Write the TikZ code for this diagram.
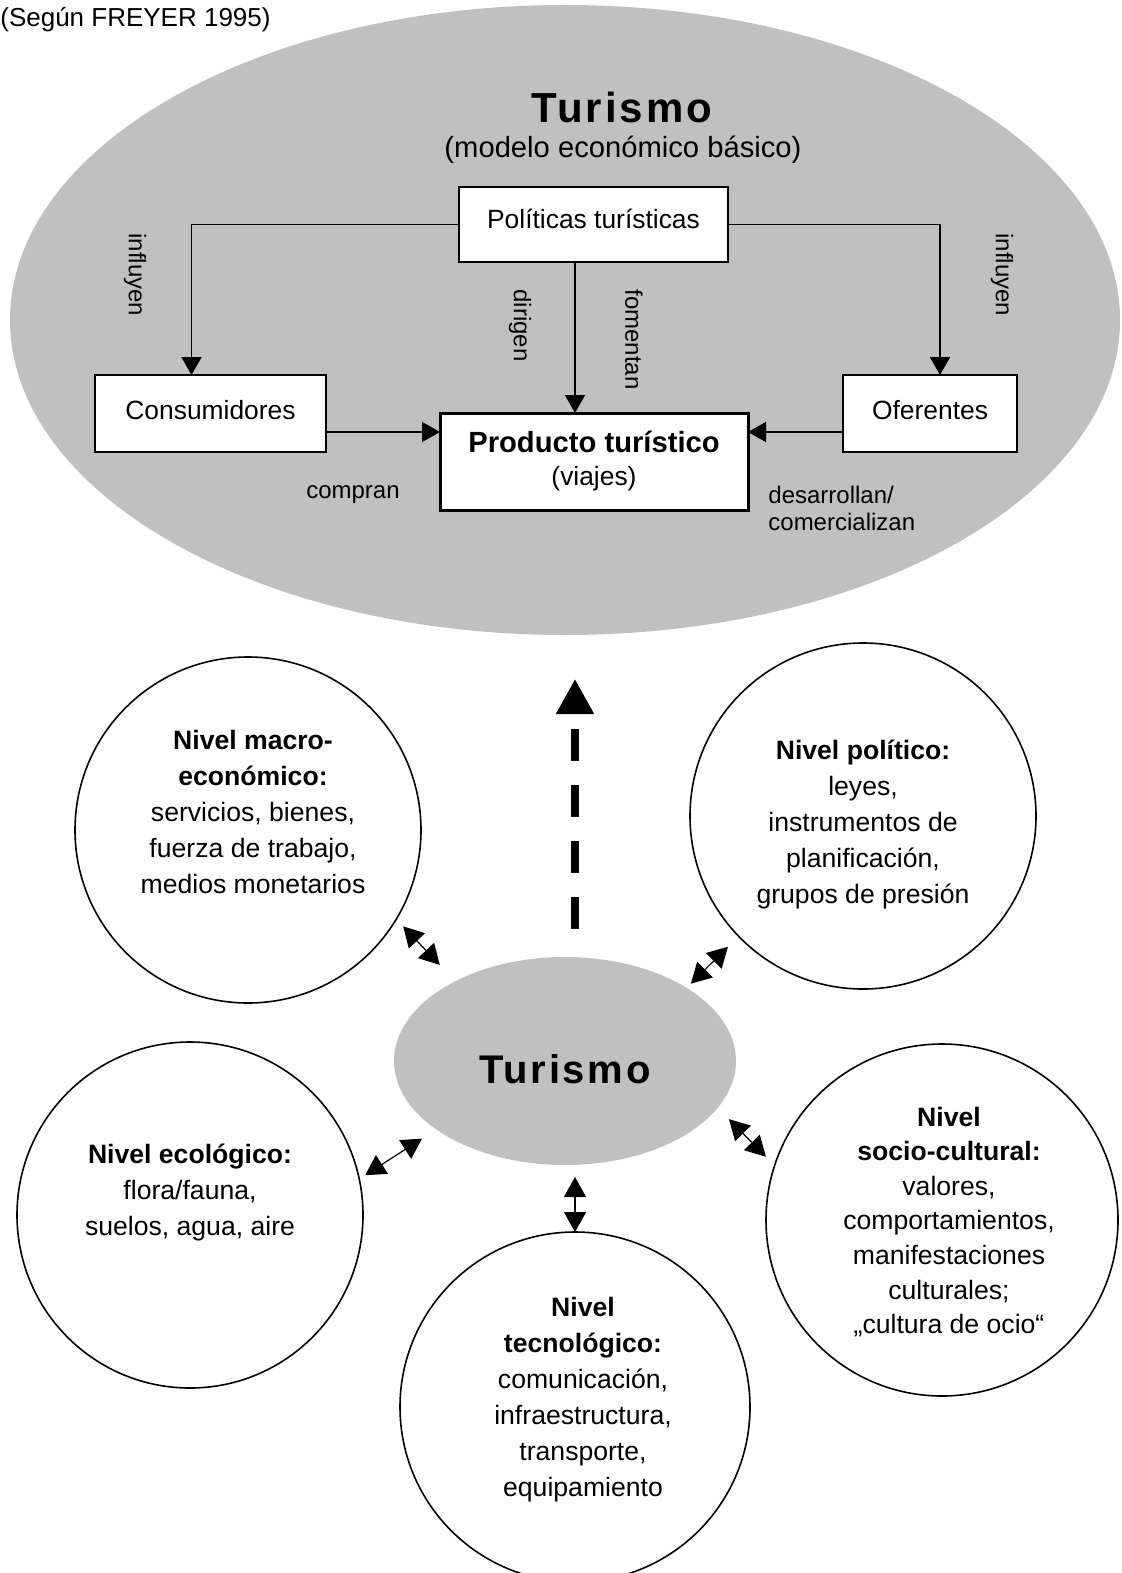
\documentclass[tikz,border=0pt]{standalone}
\usepackage{fontspec}
\setmainfont{Liberation Sans}
\usetikzlibrary{shapes.geometric,arrows.meta}
\definecolor{gris}{RGB}{192,192,192}

\begin{document}
\begin{tikzpicture}[x=0.5pt,y=-0.5pt,
  caja/.style={draw,line width=0.75pt,fill=white,inner sep=0pt,outer sep=0pt,text height=9.5pt,text depth=3.5pt,font=\fontsize{13.2}{16}\selectfont},
  flecha/.style={line width=0.75pt,-{Triangle[width=10pt,length=9pt]}},
  doble/.style={line width=0.6pt,{Triangle[width=11pt,length=10pt]}-{Triangle[width=11pt,length=10pt]}},
  nivel/.style={draw,circle,line width=0.8pt,fill=white,inner sep=0pt,outer sep=0pt},
  texto/.style={align=center,font=\fontsize{13.3}{18}\selectfont},
  etiq/.style={inner sep=0pt,font=\fontsize{12}{13.5}\selectfont},
  nube/.style={ellipse,fill=gris,inner sep=0pt,outer sep=0pt}]
\useasboundingbox (0,0) rectangle (1122,1573);

\node[nube,minimum width=555pt,minimum height=315pt] (modelo) at (565,320) {};
\node[inner sep=0pt,anchor=east,font=\fontsize{13}{15}\selectfont] (fuente) at (271,20) {(Según FREYER 1995)};
\node[inner sep=0pt,font=\fontsize{21}{24}\selectfont\bfseries\addfontfeature{LetterSpace=7}] (tit) at (622,107) {Turismo};
\node[inner sep=0pt,font=\fontsize{14.6}{17}\selectfont] (sub) at (623,150) {(modelo económico básico)};

\node[caja,text depth=5.5pt,minimum width=134.5pt,minimum height=37.5pt] (pol) at (593.5,224.5) {Políticas turísticas};
\node[caja,minimum width=115.5pt,minimum height=38.5pt] (cons) at (210.5,413.5) {Consumidores};
\node[caja,minimum width=87pt,minimum height=38.5pt] (ofe) at (930,413.5) {Oferentes};
\node[caja,line width=1.5pt,text height=,text depth=,align=center,minimum width=154pt,minimum height=48.5pt,font=\fontsize{13.2}{16.5}\selectfont] (prod) at (594,461.5) {{\fontsize{14.6}{16.5}\selectfont\bfseries Producto turístico}\\(viajes)};

\coordinate (eje) at (575,600);
\coordinate (c1) at ([yshift=-9.25pt]cons.east);
\coordinate (c2) at ([yshift=-9.25pt]ofe.west);
\draw[flecha] (pol.west) -| ([xshift=-9.5pt]cons.north);
\draw[flecha] (pol.east) -| ([xshift=5pt]ofe.north);
\draw[flecha] (eje |- pol.south) -- (eje |- prod.north);
\draw[flecha] (c1) -- (c1 -| prod.west);
\draw[flecha] (c2) -- (c2 -| prod.east);

\node[etiq,rotate=-90,anchor=west] (inf1) at (135,233) {influyen};
\node[etiq,rotate=-90,anchor=west] (inf2) at (1002,233) {influyen};
\node[etiq,rotate=-90,anchor=west] (dir) at (520,289) {dirigen};
\node[etiq,rotate=-90,anchor=west] (fom) at (634,289) {fomentan};
\node[etiq] (comp) at (353,495) {compran};
\node[etiq,align=left,anchor=west] (desa) at (768,508) {desarrollan/\\comercializan};

\node[nube,minimum width=171pt,minimum height=104pt] (tur) at (565,1061) {};
\node[inner sep=0pt,font=\fontsize{20}{24}\selectfont\bfseries\addfontfeature{LetterSpace=7}] (turt) at ([yshift=-4pt]tur.center) {Turismo};

\node[nivel,minimum size=173pt] (macro) at (248,830) {};
\node[nivel,minimum size=173pt] (polit) at (863,816) {};
\node[nivel,minimum size=173pt] (eco) at (190,1215) {};
\node[nivel,minimum size=176pt] (soc) at (942,1220) {};
\node[nivel,minimum size=175pt] (tec) at (575,1407) {};

\node[texto] (tmacro) at ([xshift=2.5pt,yshift=9pt]macro.center) {\textbf{Nivel macro-}\\\textbf{económico:}\\servicios, bienes,\\fuerza de trabajo,\\medios monetarios};
\node[texto] (tpolit) at ([yshift=-4pt]polit.center) {\textbf{Nivel político:}\\leyes,\\instrumentos de\\planificación,\\grupos de presión};
\node[texto] (teco) at ([yshift=11.5pt]eco.center) {\textbf{Nivel ecológico:}\\flora/fauna,\\suelos, agua, aire};
\node[texto,font=\fontsize{13.3}{17.3}\selectfont] (tsoc) at ([xshift=3.5pt,yshift=-1pt]soc.center) {\textbf{Nivel}\\\textbf{socio-cultural:}\\valores,\\comportamientos,\\manifestaciones\\culturales;\\„cultura de ocio“};
\node[texto] (ttec) at ([xshift=4pt,yshift=3.5pt]tec.center) {\textbf{Nivel}\\\textbf{tecnológico:}\\comunicación,\\infraestructura,\\transporte,\\equipamiento};

\draw[line width=4pt,dash pattern=on 16pt off 12pt,-{Triangle[width=18pt,length=17.5pt]},shorten <=14pt,shorten >=22pt] (eje |- tur.north) -- (eje |- modelo.south);
\draw[doble,shorten <=5pt,shorten >=11.25pt] (macro.-31) -- (tur.144);
\draw[doble,shorten <=7.5pt,shorten >=3pt] (polit.-136) -- (tur.31);
\draw[doble,shorten <=8pt,shorten >=6.25pt] (tur.-17) -- (soc.162);
\draw[doble,shorten <=8.5pt,shorten >=3.5pt] (tur.208) -- (eco.12);
\draw[doble,shorten >=6pt] (tec.north) -- (tec.north |- tur.south);
\end{tikzpicture}
\end{document}
